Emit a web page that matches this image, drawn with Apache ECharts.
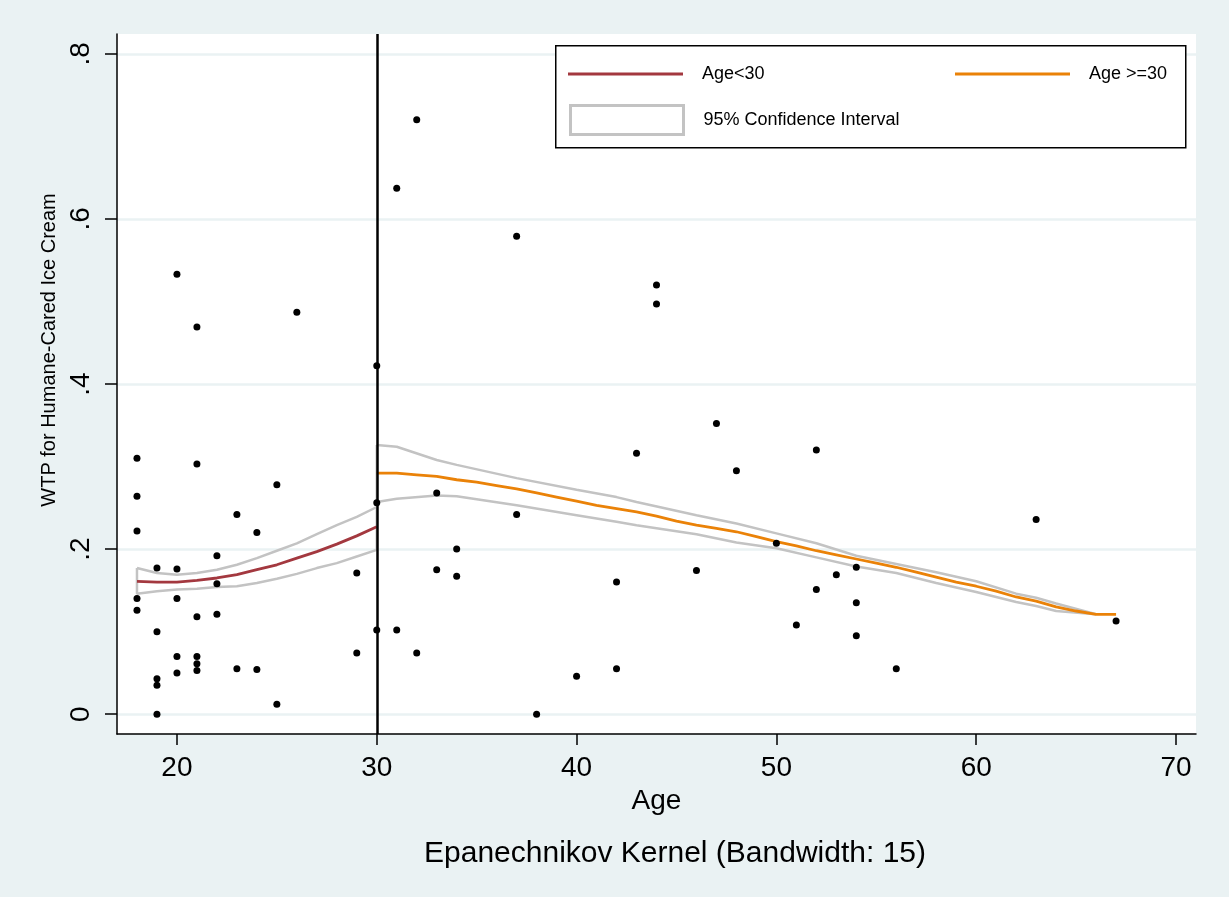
<!DOCTYPE html>
<html>
<head>
<meta charset="utf-8">
<script src="https://cdn.jsdelivr.net/npm/echarts@6/dist/echarts.min.js"></script>
<style>
html,body{margin:0;padding:0;background:#eaf2f3;}
#chart{width:1229px;height:897px;}
</style>
</head>
<body>
<div id="chart"></div>
<script>
// ---- data ----
const xTicks = [20, 30, 40, 50, 60, 70];
const yTicks = [0, 0.2, 0.4, 0.6, 0.8];

// Local polynomial fit, Age < 30
const ageLeft      = [18, 19, 20, 21, 22, 23, 24, 25, 26, 27, 28, 29, 30];
const fitLeft      = [0.161, 0.160, 0.160, 0.162, 0.165, 0.169, 0.175, 0.181, 0.189, 0.197, 0.206, 0.216, 0.227];
const ciLeftUpper  = [0.177, 0.171, 0.169, 0.171, 0.175, 0.181, 0.189, 0.198, 0.207, 0.218, 0.229, 0.239, 0.251];
const ciLeftLower  = [0.146, 0.149, 0.151, 0.152, 0.154, 0.155, 0.159, 0.164, 0.170, 0.177, 0.183, 0.191, 0.199];

// Local polynomial fit, Age >= 30
const ageRight     = [30, 31, 32, 33, 34, 35, 36, 37, 38, 39, 40, 41, 42, 43, 44, 45, 46, 47, 48, 49, 50, 51, 52, 53, 54, 55, 56, 57, 58, 59, 60, 61, 62, 63, 64, 65, 66, 67];
const fitRight     = [0.292, 0.292, 0.290, 0.288, 0.284, 0.281, 0.277, 0.273, 0.268, 0.263, 0.258, 0.253, 0.249, 0.245, 0.240, 0.234, 0.229, 0.225, 0.221, 0.215, 0.209, 0.204, 0.198, 0.193, 0.188, 0.183, 0.178, 0.172, 0.166, 0.160, 0.155, 0.149, 0.142, 0.137, 0.130, 0.125, 0.121, 0.121];
const ciAgeRight   = [30, 31, 33, 34, 37, 40, 42, 43, 46, 48, 50, 52, 54, 56, 58, 60, 62, 63, 64, 66];
const ciRightUpper = [0.326, 0.324, 0.308, 0.302, 0.286, 0.272, 0.263, 0.257, 0.241, 0.231, 0.219, 0.207, 0.192, 0.182, 0.172, 0.161, 0.146, 0.141, 0.134, 0.121];
const ciRightLower = [0.257, 0.261, 0.265, 0.264, 0.253, 0.241, 0.233, 0.229, 0.218, 0.208, 0.201, 0.190, 0.179, 0.171, 0.159, 0.148, 0.136, 0.131, 0.125, 0.120];

// Observations
const obsAge = [18, 18, 18, 18, 18, 19, 19, 19, 19, 19, 20, 20, 20, 20, 20, 21, 21, 21, 21, 21, 21,
  22, 22, 22, 23, 23, 24, 24, 25, 25, 26, 29, 29, 30, 30, 30, 31, 31, 32, 32, 33, 33, 34, 34,
  37, 37, 38, 40, 42, 42, 43, 44, 44, 46, 47, 48, 50, 51, 52, 52, 53, 54, 54, 54, 56, 63, 67];
const obsWtp = [0.310, 0.264, 0.222, 0.140, 0.126, 0.177, 0.100, 0.043, 0.035, 0.000, 0.533, 0.176, 0.140, 0.070, 0.050, 0.469, 0.303, 0.118, 0.070, 0.061, 0.053,
  0.192, 0.158, 0.121, 0.242, 0.055, 0.220, 0.054, 0.278, 0.012, 0.487, 0.171, 0.074, 0.422, 0.256, 0.102, 0.637, 0.102, 0.720, 0.074, 0.268, 0.175, 0.200, 0.167,
  0.579, 0.242, 0.000, 0.046, 0.160, 0.055, 0.316, 0.520, 0.497, 0.174, 0.352, 0.295, 0.207, 0.108, 0.320, 0.151, 0.169, 0.178, 0.135, 0.095, 0.055, 0.236, 0.113];

const cutoff = 30;

// ---- build series data ----
const zip = (xs, ys) => xs.map((x, i) => [x, ys[i]]);
function band(xs, up, lo) {
  const pts = zip(xs, up);
  for (let i = xs.length - 1; i >= 0; i--) pts.push([xs[i], lo[i]]);
  pts.push([xs[0], up[0]]);
  return pts;
}

const FONT = '"Liberation Sans", Arial, sans-serif';
const RED = '#a3383f';
const ORANGE = '#ea8208';
const CIGRAY = '#c3c3c3';

const chart = echarts.init(document.getElementById('chart'));
chart.setOption({
  animation: false,
  backgroundColor: '#eaf2f3',
  textStyle: { fontFamily: FONT, color: '#000' },
  title: {
    text: 'Epanechnikov Kernel (Bandwidth: 15)',
    left: 675, top: 839, padding: 0, textAlign: 'center',
    textStyle: { fontFamily: FONT, fontSize: 30, fontWeight: 'normal', color: '#000' }
  },
  grid: {
    left: 117, right: 33, top: 34, bottom: 163,
    show: true, backgroundColor: '#ffffff', borderWidth: 0
  },
  legend: [
    {
      data: [{ name: 'Age<30', icon: 'rect', itemStyle: { color: RED, borderWidth: 0 } }],
      left: 568, top: 65, padding: 0, itemWidth: 115, itemHeight: 3, z: 6,
      textStyle: { fontFamily: FONT, fontSize: 18, color: '#000', padding: [0, 0, 0, 14] },
      selectedMode: false
    },
    {
      data: [{ name: 'Age >=30', icon: 'rect', itemStyle: { color: ORANGE, borderWidth: 0 } }],
      left: 955, top: 65, padding: 0, itemWidth: 115, itemHeight: 3, z: 6,
      textStyle: { fontFamily: FONT, fontSize: 18, color: '#000', padding: [0, 0, 0, 14] },
      selectedMode: false
    },
    {
      data: [{ name: '95% Confidence Interval', icon: 'rect', itemStyle: { color: '#ffffff', borderColor: CIGRAY, borderWidth: 3 } }],
      left: 569, top: 104, padding: 0, itemWidth: 113, itemHeight: 29, z: 6,
      textStyle: { fontFamily: FONT, fontSize: 18, color: '#000', padding: [0, 0, 0, 15] },
      selectedMode: false
    }
  ],
  graphic: [
    {
      type: 'rect', left: 555, top: 45, z: 5,
      shape: { width: 630, height: 102 },
      style: { fill: '#ffffff', stroke: '#000', lineWidth: 1.5 }
    }
  ],
  xAxis: {
    type: 'value', min: 17, max: 71,
    name: 'Age', nameLocation: 'middle', nameGap: 49,
    nameTextStyle: { fontFamily: FONT, fontSize: 28, color: '#000' },
    axisLine: { show: true, onZero: false, lineStyle: { color: '#000', width: 1.5 } },
    axisTick: { show: true, length: 11, customValues: xTicks, lineStyle: { color: '#000', width: 1.5 } },
    axisLabel: { customValues: xTicks, fontFamily: FONT, fontSize: 28, color: '#000', margin: 20 },
    splitLine: { show: false }
  },
  yAxis: {
    type: 'value', min: -0.024, max: 0.824,
    name: 'WTP for Humane-Cared Ice Cream', nameLocation: 'middle', nameGap: 55, nameRotate: 90,
    nameTextStyle: { fontFamily: FONT, fontSize: 20, color: '#000', padding: [0, 0, 0, 68] },
    axisLine: { show: true, onZero: false, lineStyle: { color: '#000', width: 1.5 } },
    axisTick: { show: true, length: 12, customValues: yTicks, lineStyle: { color: '#000', width: 1.5 } },
    axisLabel: {
      customValues: yTicks, rotate: 90, fontFamily: FONT, fontSize: 28, color: '#000', margin: 22,
      formatter: v => (Math.abs(v) < 1e-9 ? '0' : String(+v.toFixed(1)).replace(/^0/, ''))
    },
    splitLine: { show: true, lineStyle: { color: '#eaf2f3', width: 2.5 } }
  },
  series: [
    {
      name: '95% Confidence Interval', type: 'line', data: band(ageLeft, ciLeftUpper, ciLeftLower),
      showSymbol: false, color: CIGRAY, lineStyle: { color: CIGRAY, width: 2.5 }, z: 2, silent: true
    },
    {
      name: '95% Confidence Interval', type: 'line', data: band(ciAgeRight, ciRightUpper, ciRightLower),
      showSymbol: false, color: CIGRAY, lineStyle: { color: CIGRAY, width: 2.5 }, z: 2, silent: true
    },
    {
      name: 'Age<30', type: 'line', data: zip(ageLeft, fitLeft),
      showSymbol: false, color: RED, lineStyle: { color: RED, width: 2.8 }, z: 3, silent: true
    },
    {
      name: 'Age >=30', type: 'line', data: zip(ageRight, fitRight),
      showSymbol: false, color: ORANGE, lineStyle: { color: ORANGE, width: 2.8 }, z: 3, silent: true
    },
    {
      name: 'Observations', type: 'scatter', data: zip(obsAge, obsWtp),
      symbol: 'circle', symbolSize: 7, itemStyle: { color: '#000', opacity: 1 }, z: 4, silent: true,
      markLine: {
        silent: true, symbol: ['none', 'none'], label: { show: false },
        lineStyle: { color: '#000', width: 2.5, type: 'solid' },
        data: [{ xAxis: cutoff }]
      }
    }
  ]
});
</script>
</body>
</html>
